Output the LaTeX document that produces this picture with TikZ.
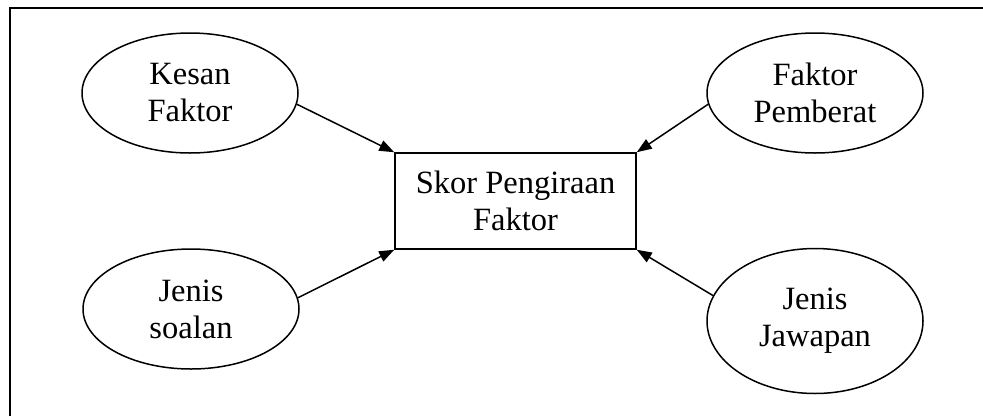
\documentclass[tikz,border=0pt]{standalone}
\usepackage{fontspec}
\setmainfont{Liberation Serif}
\usetikzlibrary{shapes.geometric,arrows.meta}
\begin{document}
\begin{tikzpicture}[x=1pt,y=-1pt,
  factor/.style={draw, line width=1.5pt, ellipse, inner sep=0pt,
    minimum width=216pt, minimum height=120pt, align=center,
    font=\fontsize{32.5}{37}\selectfont},
  scorebox/.style={draw, line width=1.5pt, rectangle, inner sep=0pt,
    minimum width=241pt, minimum height=96pt, align=center,
    font=\fontsize{32.5}{37}\selectfont},
  feed/.style={line width=1.5pt, -{Triangle[length=15pt,width=11pt]}}]
  \useasboundingbox (0,0) rectangle (983,416);
  % outer frame (top and left edges)
  \draw[line width=1.9pt] (10,416) -- (10,8) -- (983,8);

  % central box
  \node[scorebox] (skor) at (515.5,201) {Skor Pengiraan\\Faktor};

  % contributing factors
  \node[factor] (kesan) at (190,93) {Kesan\\Faktor};
  \node[factor] (pemberat) at (815,93) {Faktor\\Pemberat};
  \node[factor] (soalan) at (191,309) {Jenis\\soalan};
  \node[factor, minimum height=145pt] (jawapan) at (815,321) {Jenis\\Jawapan};

  % arrows into the corners of the box
  \draw[feed] (kesan.-6) -- (skor.north west);
  \draw[feed] (pemberat.186) -- (skor.north east);
  \draw[feed] (soalan.6) -- (skor.south west);
  \draw[feed] (jawapan.166) -- (skor.south east);
\end{tikzpicture}
\end{document}
